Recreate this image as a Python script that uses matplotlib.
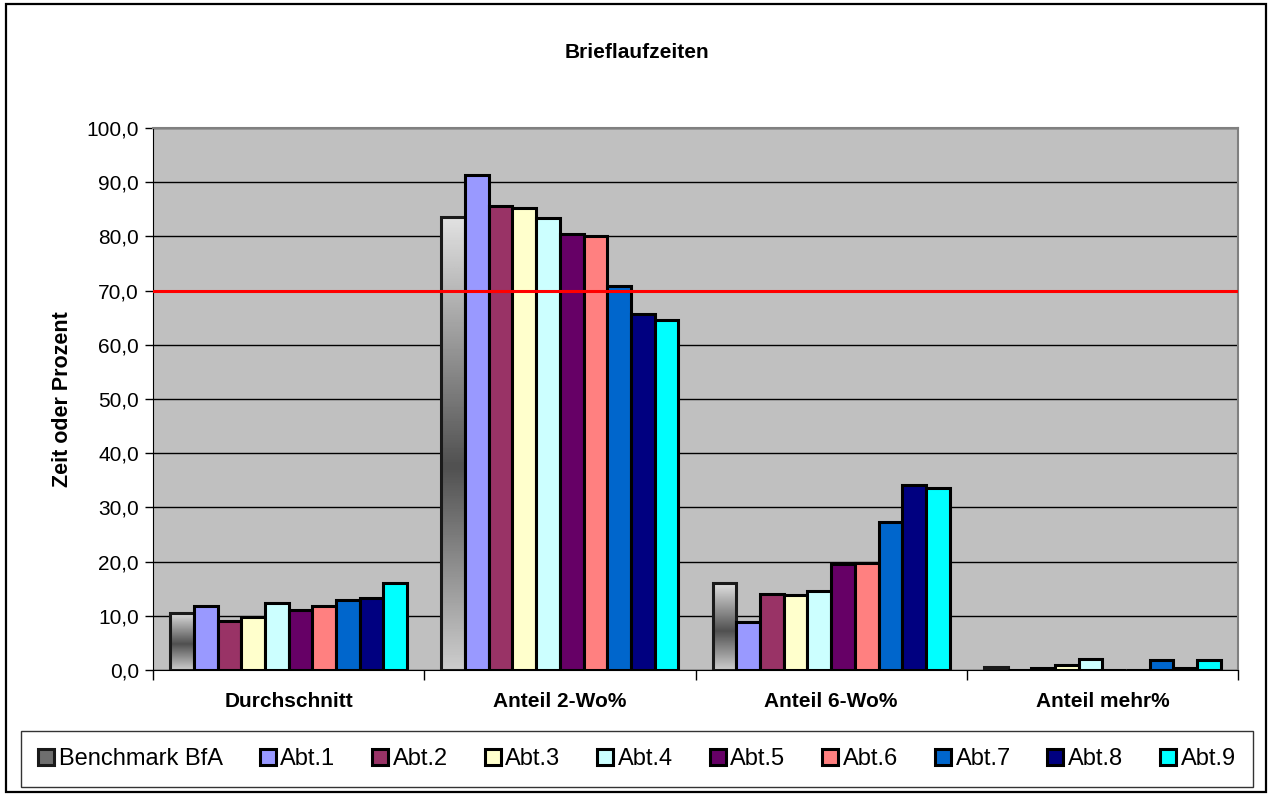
import numpy as np
import matplotlib.pyplot as plt
from matplotlib.patches import Rectangle
from matplotlib.ticker import FuncFormatter

plt.rcParams['font.family'] = ['Liberation Sans', 'DejaVu Sans']

categories = ['Durchschnitt', 'Anteil 2-Wo%', 'Anteil 6-Wo%', 'Anteil mehr%']
series = ['Benchmark BfA', 'Abt.1', 'Abt.2', 'Abt.3', 'Abt.4',
          'Abt.5', 'Abt.6', 'Abt.7', 'Abt.8', 'Abt.9']
values = [
    [10.6, 83.5, 16.0, 0.6],   # Benchmark BfA
    [11.9, 91.3, 8.8, 0.0],    # Abt.1
    [9.0, 85.6, 14.1, 0.3],    # Abt.2
    [9.7, 85.2, 13.9, 1.0],    # Abt.3
    [12.3, 83.4, 14.5, 2.1],   # Abt.4
    [11.1, 80.5, 19.6, 0.0],   # Abt.5
    [11.8, 80.1, 19.8, 0.0],   # Abt.6
    [12.9, 70.9, 27.3, 1.9],   # Abt.7
    [13.2, 65.7, 34.1, 0.3],   # Abt.8
    [16.0, 64.6, 33.6, 1.8],   # Abt.9
]
target = 70.0
colors = [None, '#9999FF', '#993366', '#FFFFCC', '#CCFFFF',
          '#660066', '#FF8080', '#0066CC', '#000080', '#00FFFF']

W, H = 1269, 796
fig = plt.figure(figsize=(W / 100, H / 100), dpi=100)
fig.patch.set_facecolor('white')
fig.patches.append(Rectangle((6 / W, 4 / H), 1260 / W, 788 / H, transform=fig.transFigure,
                             fill=False, edgecolor='black', lw=1.6))

ax = fig.add_axes([153 / W, 1 - 670 / H, (1238 - 153) / W, (670 - 128) / H])
ax.set_facecolor('#C0C0C0')

x = np.arange(len(categories))
w = 0.0874
# vertical grey gradient, light at the ends and dark in the middle
grad = np.concatenate([np.linspace(0.88, 0.32, 55), np.linspace(0.32, 0.8, 45)])[:, None]

for i, name in enumerate(series):
    pos = x + (i - 4.5) * w
    if i == 0:
        bars = ax.bar(pos, values[i], w, facecolor='none', edgecolor='#1a1a1a',
                      lw=2.2, label=name, zorder=3)
        for b in bars:
            h = b.get_height()
            if h <= 0:
                continue
            im = ax.imshow(grad, cmap='gray', vmin=0, vmax=1, aspect='auto',
                           extent=(b.get_x(), b.get_x() + w, 0, h), zorder=2.5,
                           interpolation='bilinear')
            im.set_clip_path(b)
    else:
        ax.bar(pos, values[i], w, color=colors[i], edgecolor='black',
               lw=2.2, label=name, zorder=3)

ax.axhline(target, color='#FF0000', lw=2.2, zorder=4)

ax.set_xlim(-0.5, 3.5)
ax.set_ylim(0, 100)
ax.set_yticks(np.arange(0, 101, 10))
ax.yaxis.set_major_formatter(FuncFormatter(lambda v, p: f'{v:.1f}'.replace('.', ',')))
ax.yaxis.grid(True, color='black', lw=1)
ax.set_axisbelow(True)

ax.set_xticks(x)
ax.set_xticklabels(categories, fontweight='bold', fontsize=15)
ax.set_xticks(np.arange(-0.5, 4, 1), minor=True)
ax.tick_params(axis='x', which='major', length=0, pad=16)
ax.tick_params(axis='x', which='minor', length=7, width=1, direction='out')
ax.tick_params(axis='y', length=6, width=1, direction='out', labelsize=15, pad=4)

for s in ['top', 'right']:
    ax.spines[s].set_color('#808080')
    ax.spines[s].set_linewidth(1.5)
for s in ['left', 'bottom']:
    ax.spines[s].set_color('black')

ax.set_ylabel('Zeit oder Prozent', fontweight='bold', fontsize=15.5, labelpad=10)
fig.text(637 / W, 1 - 52 / H, 'Brieflaufzeiten', ha='center', va='center',
         fontweight='bold', fontsize=15)

handles, labels = ax.get_legend_handles_labels()
leg = fig.legend(handles, labels, loc='center', ncol=10,
                 bbox_to_anchor=(637 / W, 1 - 759 / H), fontsize=17,
                 frameon=True, fancybox=False, edgecolor='black',
                 handlelength=0.68, handleheight=0.68, handletextpad=0.2,
                 columnspacing=1.55, borderpad=0.72)
leg.get_frame().set_linewidth(1)
# the benchmark swatch shows a flat grey in the key
leg.legend_handles[0].set_facecolor('#6E6E6E')

fig.savefig('out.png', dpi=100)
